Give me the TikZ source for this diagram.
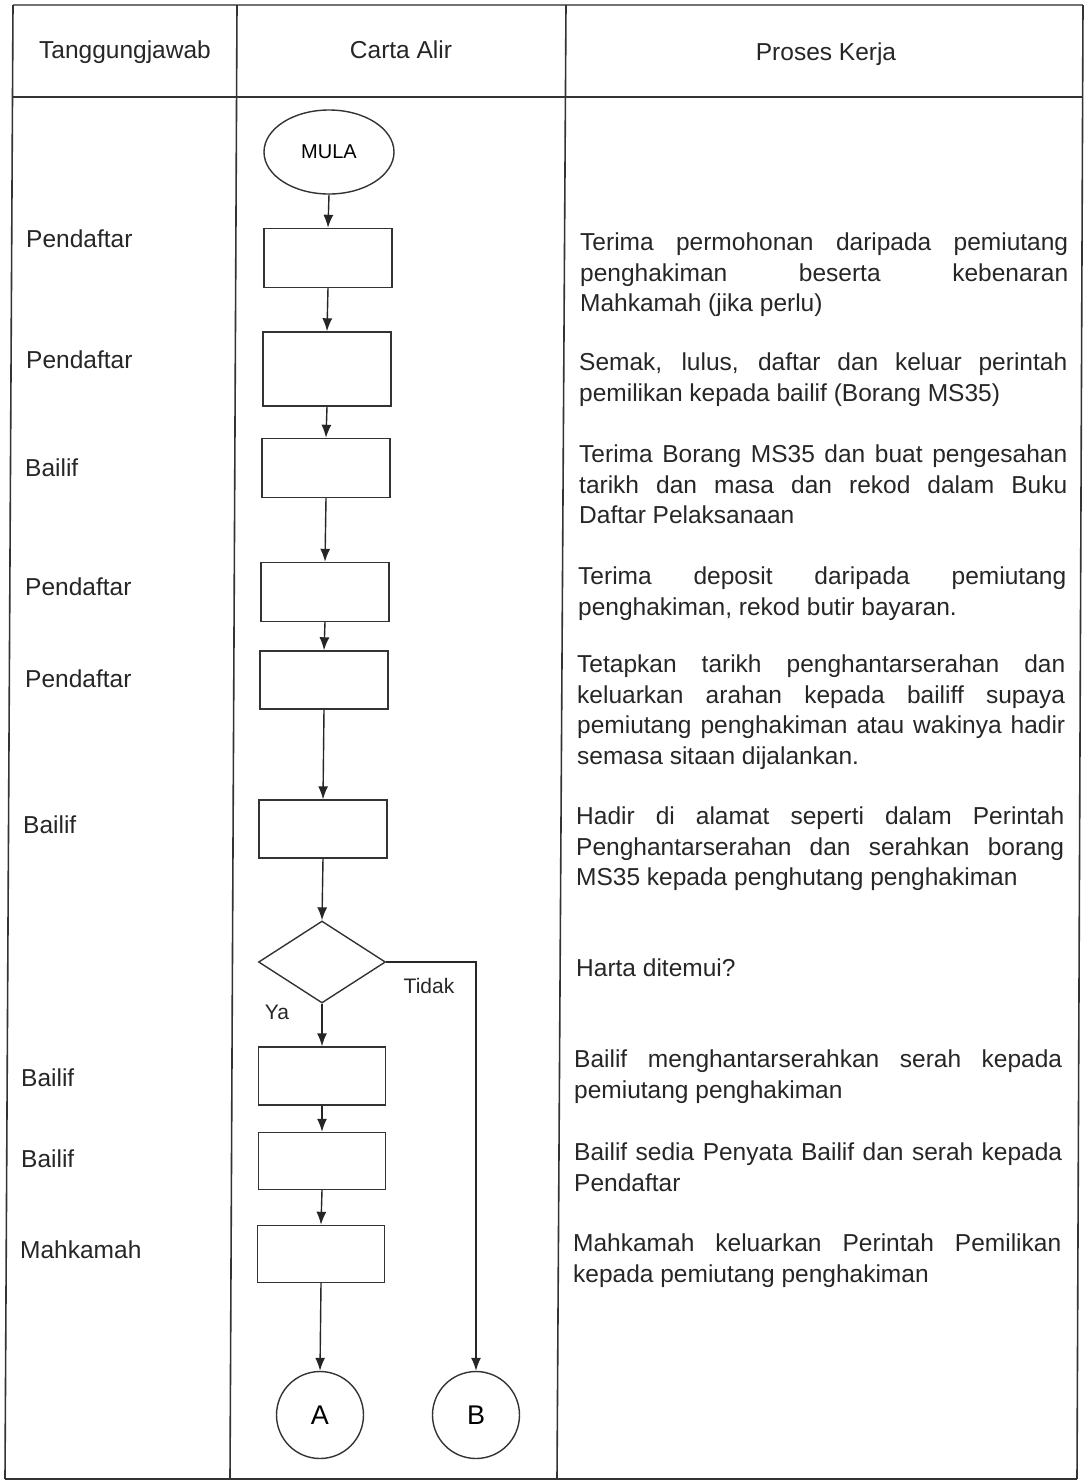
\documentclass[tikz,border=0pt]{standalone}
\usepackage{fontspec}
\setmainfont{Liberation Sans}
\usetikzlibrary{arrows.meta,shapes.geometric}
\hyphenpenalty=10000
\tolerance=10000

\tikzset{
  >={Latex[length=13pt,width=10pt]},
  grid/.style={line width=1.6pt,black!80},
  flow/.style={line width=1.4pt,black!85},
  procbox/.style={draw=black!80,line width=1.4pt,minimum width=128pt,minimum height=58pt,inner sep=0pt},
  startnode/.style={ellipse,draw=black!80,line width=1.4pt,minimum width=130pt,minimum height=84pt,inner sep=0pt,font=\fontsize{20}{24}\selectfont},
  decide/.style={diamond,draw=black!80,line width=1.4pt,minimum width=127pt,minimum height=82pt,inner sep=0pt},
  conn/.style={circle,draw=black!80,line width=1.4pt,minimum size=87pt,inner sep=0pt,font=\fontsize{27}{30}\selectfont},
  head/.style={anchor=base,inner sep=0pt,text=black!85,font=\fontsize{24.5}{30}\selectfont},
  who/.style={anchor=base west,inner sep=0pt,text=black!85,font=\fontsize{24.5}{30}\selectfont},
  work/.style={anchor=north west,inner sep=0pt,text width=488pt,align=justify,text=black!85,font=\fontsize{24.5}{30.5}\selectfont},
  flowlabel/.style={inner sep=0pt,text=black!85,font=\fontsize{21}{24}\selectfont},
}

\begin{document}
\begin{tikzpicture}[x=1pt,y=-1pt]
  \useasboundingbox (0,0) rectangle (1085,1484);

  % table
  \draw[grid,black!55] (13,5) -- (1083,5);
  \draw[grid] (13,97) -- (1083,97);
  \draw[grid] (5,1479) -- (1077,1479);
  \draw[grid] (13,5) -- (5,1479);
  \draw[grid] (237,5) -- (230,1479);
  \draw[grid] (566,5) -- (557,1479);
  \draw[grid] (1083,5) -- (1077,1479);

  \node[head] (h1) at (125,58) {Tanggungjawab};
  \node[head] (h2) at (401,58) {Carta Alir};
  \node[head] (h3) at (826,60) {Proses Kerja};

  % who does it
  \node[who] (w1) at (26,247) {Pendaftar};
  \node[who] (w2) at (26,368) {Pendaftar};
  \node[who] (w3) at (25,476) {Bailif};
  \node[who] (w4) at (25,595) {Pendaftar};
  \node[who] (w5) at (25,687) {Pendaftar};
  \node[who] (w6) at (23,833) {Bailif};
  \node[who] (w7) at (21,1086) {Bailif};
  \node[who] (w8) at (21,1167) {Bailif};
  \node[who] (w9) at (20,1258) {Mahkamah};

  % flow chart
  \node[startnode] (mula) at (329,152) {MULA};
  \node[procbox,minimum height=59pt] (p1) at (328,258) {};
  \node[procbox,minimum height=74pt] (p2) at (327,369) {};
  \node[procbox,minimum height=59pt] (p3) at (326,468) {};
  \node[procbox,minimum height=59pt] (p4) at (325,592) {};
  \node[procbox] (p5) at (324,680) {};
  \node[procbox] (p6) at (323,829) {};
  \node[decide] (q) at (322,962) {};
  \node[procbox,minimum width=127pt] (p7) at (322,1076) {};
  \node[procbox,minimum width=127pt,minimum height=57pt] (p8) at (322,1161) {};
  \node[procbox,minimum width=127pt,minimum height=57pt] (p9) at (321,1254) {};
  \node[conn] (ca) at (320,1415) {A};
  \node[conn] (cb) at (476,1415) {B};

  \draw[flow,->] (mula.south) -- (p1.north);
  \draw[flow,->] (p1.south) -- (p2.north);
  \draw[flow,->] (p2.south) -- (p3.north);
  \draw[flow,->] (p3.south) -- (p4.north);
  \draw[flow,->] (p4.south) -- (p5.north);
  \draw[flow,->] (p5.south) -- (p6.north);
  \draw[flow,->] (p6.south) -- (q.north);
  \draw[flow,->] (q.south) -- (p7.north);
  \draw[flow,->] (p7.south) -- (p8.north);
  \draw[flow,->] (p8.south) -- (p9.north);
  \draw[flow,->] (p9.south) -- (ca.north);
  \draw[flow,->] (q.east) -| (cb.north);

  \node[flowlabel] (tidak) at (429,986) {Tidak};
  \node[flowlabel] (ya) at (277,1012) {Ya};

  % work process
  \node[work] (t1) at (580,233) {Terima permohonan daripada pemiutang\linebreak penghakiman beserta kebenaran\linebreak Mahkamah (jika perlu)};
  \node[work] (t2) at (579,353) {Semak, lulus, daftar dan keluar perintah\linebreak pemilikan kepada bailif (Borang MS35)};
  \node[work] (t3) at (579,445) {Terima Borang MS35 dan buat pengesahan\linebreak tarikh dan masa dan rekod dalam Buku\linebreak Daftar Pelaksanaan};
  \node[work] (t4) at (578,567) {Terima deposit daripada pemiutang\linebreak penghakiman, rekod butir bayaran.};
  \node[work] (t5) at (577,655) {Tetapkan tarikh penghantarserahan dan\linebreak keluarkan arahan kepada bailiff supaya\linebreak pemiutang penghakiman atau wakinya hadir\linebreak semasa sitaan dijalankan.};
  \node[work] (t6) at (576,807) {Hadir di alamat seperti dalam Perintah\linebreak Penghantarserahan dan serahkan borang\linebreak MS35 kepada penghutang penghakiman};
  \node[work] (t7) at (576,959) {Harta ditemui?};
  \node[work] (t8) at (574,1050) {Bailif menghantarserahkan serah kepada\linebreak pemiutang penghakiman};
  \node[work] (t9) at (574,1143) {Bailif sedia Penyata Bailif dan serah kepada\linebreak Pendaftar};
  \node[work] (t10) at (573,1234) {Mahkamah keluarkan Perintah Pemilikan\linebreak kepada pemiutang penghakiman};
\end{tikzpicture}
\end{document}
